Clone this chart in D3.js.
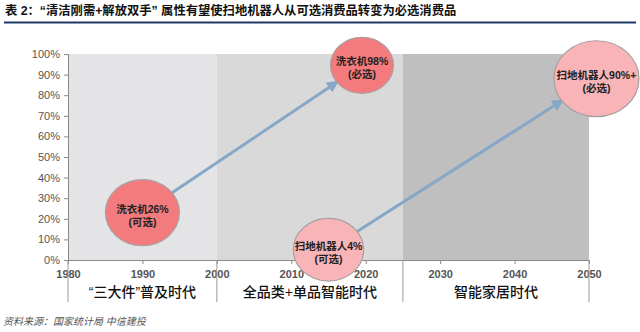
<!DOCTYPE html>
<html><head><meta charset="utf-8">
<script src="https://cdn.jsdelivr.net/npm/d3@7"></script>
<style>
body{margin:0;background:#fff;}
text{font-family:"Liberation Sans","Noto Sans CJK SC",sans-serif;}
</style></head>
<body><svg id="c" width="640" height="332"></svg>
<script>
const titleText = "表 2：“清洁刚需+解放双手” 属性有望使扫地机器人从可选消费品转变为必选消费品";
const sourceText = "资料来源：国家统计局 中信建投";
const xTicks = [1980,1990,2000,2010,2020,2030,2040,2050];
const yTicks = [0,0.1,0.2,0.3,0.4,0.5,0.6,0.7,0.8,0.9,1.0];
const eraNames = ["“三大件”普及时代","全品类+单品智能时代","智能家居时代"];
const eraStart = [1980,2000,2025];
const eraEnd = [2000,2025,2050];
const bubbleYear = [1990,2019.5,2015,2051];
const bubbleValue = [0.23,0.945,0.05,0.88];
const bubbleSize = [1.0,0.85,0.95,1.15];
const bubbleLine1 = ["洗衣机26%","洗衣机98%","扫地机器人4%","扫地机器人90%+"];
const bubbleLine2 = ["(可选)","(必选)","(可选)","(必选)"];
const arrowFrom = [0,2];
const arrowTo = [1,3];

const svg = d3.select("#c");
const x = d3.scaleLinear().domain([1980,2050]).range([68,589]);
const y = d3.scaleLinear().domain([0,1]).range([260,54]);
const eraFill = ["#e4e4e6","#d9d9da","#bfbfc0"];
const bubbleFill = ["#f47b7d","#f47b7d","#f8b4b7","#f8b4b7"];

// title
svg.append("text").attr("x",5).attr("y",15).attr("font-size",12.3).attr("font-weight","bold")
  .attr("fill","#111").text(titleText);
svg.append("line").attr("x1",4).attr("x2",636).attr("y1",22.5).attr("y2",22.5)
  .attr("stroke","#1f3864").attr("stroke-width",2);

// era backgrounds
svg.selectAll("rect.era").data(eraNames).join("rect").attr("class","era")
  .attr("x",(d,i)=>x(eraStart[i])).attr("width",(d,i)=>x(eraEnd[i])-x(eraStart[i]))
  .attr("y",y(1)).attr("height",y(0)-y(1)).attr("fill",(d,i)=>eraFill[i]);

// axes
const yAxis = svg.append("g").attr("transform",`translate(${x(1980)},0)`)
  .call(d3.axisLeft(y).tickValues(yTicks).tickFormat(d3.format(".0%")).tickSize(4).tickPadding(4));
const xAxis = svg.append("g").attr("transform",`translate(0,${y(0)})`)
  .call(d3.axisBottom(x).tickValues(xTicks).tickFormat(d3.format("d")).tickSize(4).tickPadding(6));
[yAxis,xAxis].forEach(a=>{
  a.select(".domain").attr("stroke","#8a8a8a");
  a.selectAll(".tick line").attr("stroke","#8a8a8a");
  a.selectAll("text").attr("font-size",11).attr("fill","#555")
   .attr("font-family","Liberation Sans, Arial, sans-serif");
});
xAxis.selectAll("text").attr("font-weight","bold");

// era separators below axis
const seps = [1980,2000,2025,2050];
svg.selectAll("line.sep").data(seps).join("line").attr("class","sep")
  .attr("x1",d=>x(d)).attr("x2",d=>x(d)).attr("y1",y(0)).attr("y2",302)
  .attr("stroke","#9a9a9a").attr("stroke-width",1);
svg.selectAll("text.era").data(eraNames).join("text").attr("class","era")
  .attr("x",(d,i)=>(x(eraStart[i])+x(eraEnd[i]))/2).attr("y",297)
  .attr("text-anchor","middle").attr("font-size",14).attr("font-weight",500)
  .attr("font-family","Noto Sans CJK SC, sans-serif").attr("fill","#111").text(d=>d);

// source
svg.append("text").attr("x",3).attr("y",325).attr("font-size",10).attr("font-style","italic")
  .attr("fill","#555").text(sourceText);

// arrows
const defs = svg.append("defs");
defs.append("marker").attr("id","ah").attr("viewBox","0 0 10 10").attr("refX",8).attr("refY",5)
  .attr("markerWidth",4).attr("markerHeight",4).attr("orient","auto")
  .append("path").attr("d","M0,0L10,5L0,10z").attr("fill","#86a7c6");
const rx = s=>37*s, ry = s=>33*s;
function edge(i,j){
  const cx=x(bubbleYear[i]), cy=y(bubbleValue[i]);
  const tx=x(bubbleYear[j]), ty=y(bubbleValue[j]);
  const a=Math.atan2(ty-cy,tx-cx);
  const s=bubbleSize[i];
  const r=1/Math.sqrt(Math.pow(Math.cos(a)/rx(s),2)+Math.pow(Math.sin(a)/ry(s),2));
  return [cx+Math.cos(a)*r, cy+Math.sin(a)*r];
}
arrowFrom.forEach((f,k)=>{
  const t=arrowTo[k];
  const p1=edge(f,t), p2=edge(t,f);
  svg.append("line").attr("x1",p1[0]).attr("y1",p1[1]).attr("x2",p2[0]).attr("y2",p2[1])
    .attr("stroke","#86a7c6").attr("stroke-width",3).attr("marker-end","url(#ah)");
});

// bubbles
const b = svg.selectAll("g.b").data(bubbleYear).join("g").attr("class","b")
  .attr("transform",(d,i)=>`translate(${x(d)},${y(bubbleValue[i])})`);
b.append("ellipse").attr("rx",(d,i)=>rx(bubbleSize[i])).attr("ry",(d,i)=>ry(bubbleSize[i]))
  .attr("fill",(d,i)=>bubbleFill[i]).attr("stroke","#a8a0a0").attr("stroke-width",1.2);
b.append("text").attr("y",0).attr("text-anchor","middle").attr("font-size",10.5).attr("font-weight","bold")
  .attr("fill","#222").text((d,i)=>bubbleLine1[i]);
b.append("text").attr("y",13).attr("text-anchor","middle").attr("font-size",10.5).attr("font-weight","bold")
  .attr("fill","#222").text((d,i)=>bubbleLine2[i]);
</script></body></html>
